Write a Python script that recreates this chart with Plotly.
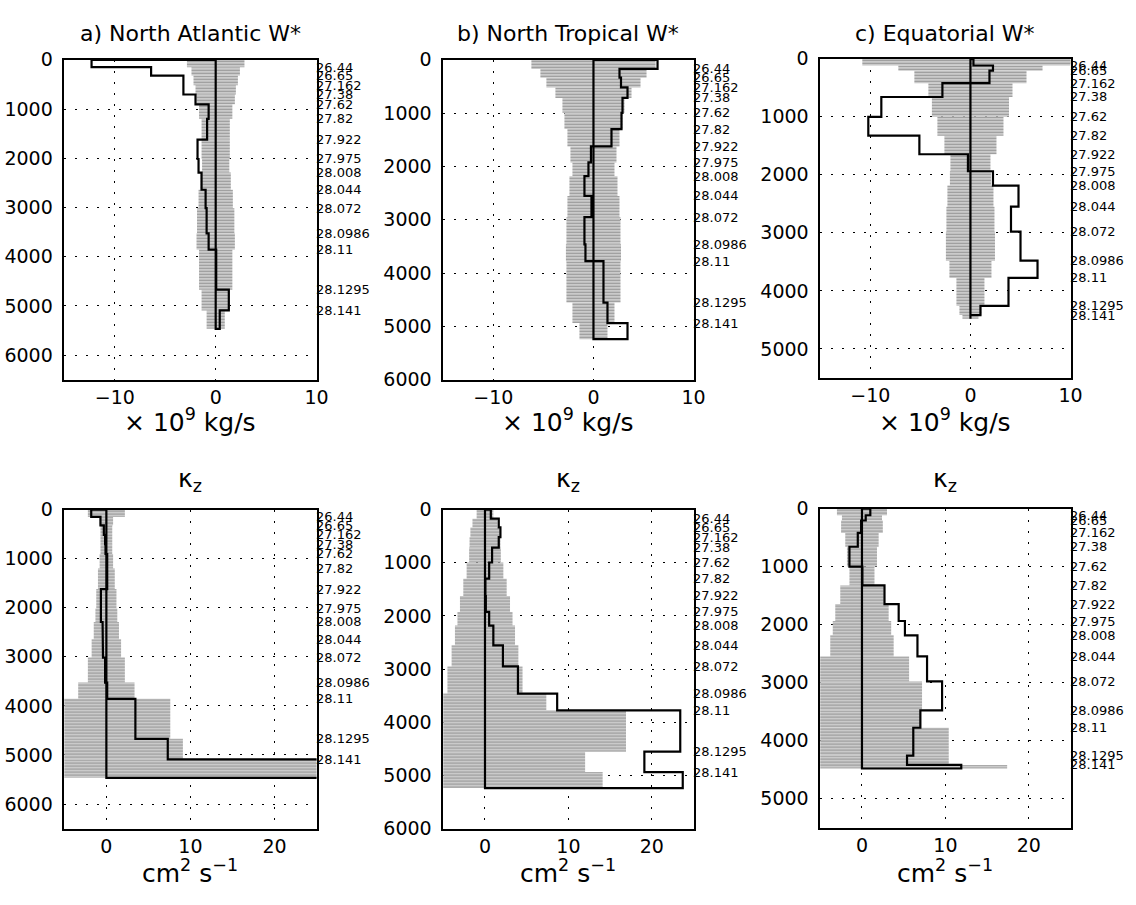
import plotly.graph_objects as go

# ---------------- data ----------------
density_labels = ["26.44", "26.65", "27.162", "27.38", "27.62", "27.82", "27.922", "27.975",
                  "28.008", "28.044", "28.072", "28.0986", "28.11", "28.1295", "28.141"]

# layer interface depths (m); last entry = bottom of profile
depth_a = [150, 320, 515, 705, 905, 1200, 1620, 2015, 2290, 2640, 3015, 3525, 3855, 4670, 5090, 5465]
depth_b = [171, 336, 519, 715, 995, 1300, 1625, 1925, 2182, 2552, 2950, 3460, 3776, 4552, 4937, 5238]
depth_c = [115, 205, 420, 658, 1000, 1325, 1645, 1938, 2185, 2549, 2980, 3480, 3778, 4258, 4418, 4480]

# W* (x 10^9 kg/s) per layer, and its uncertainty
wstar_a = [-12.3, -6.4, -3.2, -3.2, -2.0, -0.7, -0.85, -1.8, -1.7, -1.4, -1.0, -0.9, -0.7, 0.05, 1.3, 0.4]
wstar_a_err = [2.85, 2.4, 2.2, 2.0, 1.9, 1.65, 1.4, 1.4, 1.35, 1.5, 1.7, 1.85, 1.9, 1.65, 1.4, 0.9]
wstar_b = [6.4, 2.6, 2.75, 3.4, 2.9, 2.8, 1.8, -0.25, -0.5, -0.9, -0.2, -0.9, -0.8, 1.0, 1.4, 3.4]
wstar_b_err = [6.2, 5.3, 4.7, 3.8, 3.1, 2.9, 2.6, 2.3, 2.1, 2.4, 2.6, 2.7, 2.75, 2.7, 2.1, 1.4]
wstar_c = [0.3, 2.25, 1.9, -2.8, -8.9, -10.2, -5.1, -0.25, 2.25, 4.8, 4.05, 5.0, 6.7, 3.8, 1.0, 0.0]
wstar_c_err = [10.8, 7.2, 5.6, 4.2, 3.85, 3.3, 2.6, 2.0, 2.05, 2.3, 2.4, 2.45, 2.1, 1.4, 1.1, 0.8]

# kappa_z (cm^2 s^-1) per layer, and its uncertainty
kz_a = [-1.8, -0.7, -0.3, -0.15, -0.1, 0.1, 0.1, -0.65, -0.65, -0.45, -0.4, -0.15, 0.1, 3.45, 7.3, 30.0]
kz_a_err = [2.2, 0.8, 0.7, 0.7, 0.7, 0.8, 1.0, 1.2, 1.3, 1.5, 1.75, 2.2, 3.35, 7.6, 9.1, 30.0]
kz_b = [0.7, 1.65, 1.85, 1.65, 0.85, 0.5, 0.05, 0.1, 0.5, 1.0, 2.15, 3.95, 8.65, 23.4, 19.1, 23.7]
kz_b_err = [1.0, 1.5, 1.75, 1.85, 1.9, 2.2, 2.6, 3.0, 3.3, 3.6, 4.0, 4.5, 7.35, 16.9, 12.0, 14.1]
kz_c = [1.0, 0.45, -0.1, -0.5, -1.5, 0.05, 2.7, 4.4, 5.15, 6.65, 7.8, 9.6, 7.0, 6.15, 5.4, 11.9]
kz_c_err = [3.0, 2.4, 2.5, 2.0, 1.8, 1.5, 2.6, 3.2, 3.5, 3.8, 5.65, 7.2, 7.0, 10.4, 10.4, 17.4]

top_titles = ["a) North Atlantic W*", "b) North Tropical W*", "c) Equatorial W*"]
depth_max = [6500, 6000, 5500]
top_xticks = [-10, 0, 10]
bot_xticks = [0, 10, 20]
top_xrange = [-15, 10]
bot_xrange = [-5, 25]

# ---------------- layout geometry (pixels) ----------------
W, H = 1136, 905
FONT = "DejaVu Sans"
xpix = [(65, 320), (448, 701), (829, 1082)]
ypix_top = [(50, 378), (50, 378), (49, 376)]
ypix_bot = [(511, 838), (511, 838), (510, 837)]

fig = go.Figure()

panels = [
    (depth_a, wstar_a, wstar_a_err, kz_a, kz_a_err),
    (depth_b, wstar_b, wstar_b_err, kz_b, kz_b_err),
    (depth_c, wstar_c, wstar_c_err, kz_c, kz_c_err),
]


def add_panel(idx, depths, vals, errs, xr, xt, xp, yp, dmax):
    xa = "x" if idx == 1 else f"x{idx}"
    ya = "y" if idx == 1 else f"y{idx}"
    tops = [0] + depths[:-1]
    mids = [(t + b) / 2 for t, b in zip(tops, depths)]
    thick = [b - t for t, b in zip(tops, depths)]
    # uncertainty shading (symmetric about zero)
    fig.add_trace(go.Bar(
        y=mids, x=[2 * e for e in errs], base=[-e for e in errs], width=thick,
        orientation="h", xaxis=xa, yaxis=ya, showlegend=False, hoverinfo="skip",
        marker=dict(color="#a8a8a8", line=dict(width=0),
                    pattern=dict(shape="-", fgcolor="#505050", bgcolor="#dcdcdc",
                                 size=3, solidity=0.5)),
    ))
    # step profile outline, closed at x = 0
    px, py = [0], [0]
    for v, t, b in zip(vals, tops, depths):
        px += [v, v]
        py += [t, b]
    px += [0, 0]
    py += [depths[-1], 0]
    fig.add_trace(go.Scatter(x=px, y=py, mode="lines", xaxis=xa, yaxis=ya,
                             line=dict(color="black", width=2.2), showlegend=False,
                             hoverinfo="skip"))
    # density labels at interfaces
    for lab, d in zip(density_labels, depths[:-1]):
        fig.add_annotation(x=1.0, xref=f"{xa} domain", y=d, yref=ya, text=lab,
                           showarrow=False, xanchor="left", yanchor="middle", xshift=-3,
                           font=dict(family=FONT, size=13, color="black"))
    axkey = "xaxis" if idx == 1 else f"xaxis{idx}"
    aykey = "yaxis" if idx == 1 else f"yaxis{idx}"
    common = dict(showline=True, linecolor="black", linewidth=1.5, mirror=True,
                  showgrid=True, gridcolor="black", gridwidth=1, griddash="2px,9px",
                  zeroline=False, ticks="", tickfont=dict(family=FONT, size=19, color="black"))
    fig.update_layout({
        axkey: dict(domain=[xp[0] / W, xp[1] / W], range=xr, tickvals=xt, anchor=ya,
                    ticklabelstandoff=0, **common),
        aykey: dict(domain=[1 - yp[1] / H, 1 - yp[0] / H], range=[dmax, 0],
                    tickvals=list(range(0, dmax + 1, 1000)), anchor=xa,
                    ticklabelstandoff=6, **common),
    })


for i in range(3):
    d, w, we, k, ke = panels[i]
    add_panel(i + 1, d, w, we, top_xrange, top_xticks, xpix[i], ypix_top[i], depth_max[i])
    add_panel(i + 4, d, k, ke, bot_xrange, bot_xticks, xpix[i], ypix_bot[i], depth_max[i])

# titles and axis labels
for i in range(3):
    cx = (xpix[i][0] + xpix[i][1]) / 2 / W
    fig.add_annotation(x=cx, y=1 - 23 / H, xref="paper", yref="paper", text=top_titles[i],
                       showarrow=False, xanchor="center", yanchor="middle",
                       font=dict(family=FONT, size=22, color="black"))
    fig.add_annotation(x=cx, y=1 - 420 / H, xref="paper", yref="paper",
                       text="× 10<sup>9</sup> kg/s", showarrow=False, xanchor="center",
                       yanchor="middle", font=dict(family=FONT, size=25, color="black"))
    fig.add_annotation(x=cx, y=1 - 481 / H, xref="paper", yref="paper",
                       text="κ<sub>z</sub>", showarrow=False, xanchor="center",
                       yanchor="middle", font=dict(family=FONT, size=25, color="black"))
    fig.add_annotation(x=cx, y=1 - 882 / H, xref="paper", yref="paper",
                       text="cm<sup>2</sup> s<sup>−1</sup>", showarrow=False, xanchor="center",
                       yanchor="middle", font=dict(family=FONT, size=25, color="black"))

fig.update_layout(width=W, height=H, margin=dict(l=0, r=0, t=0, b=0),
                  paper_bgcolor="white", plot_bgcolor="white", barmode="overlay",
                  font=dict(family=FONT, color="black"))

fig.write_html("out.html")
